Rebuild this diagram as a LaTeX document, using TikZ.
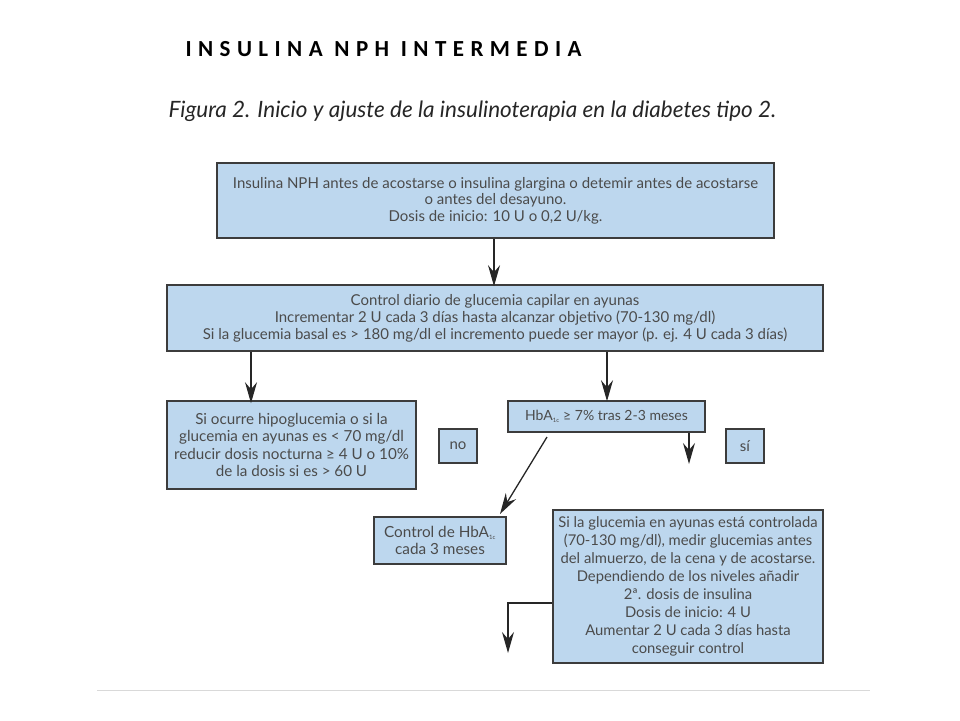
\documentclass[tikz,border=0pt]{standalone}
\usepackage{fontspec}
\setmainfont{Lato}
\newfontfamily\titlefont[LetterSpace=28]{Carlito}
\usetikzlibrary{arrows.meta}
\definecolor{boxfill}{RGB}{189,215,238}
\definecolor{boxline}{RGB}{60,60,60}
\definecolor{boxtext}{RGB}{75,75,75}
\tikzset{
  flowbox/.style={draw=boxline, line width=1.6pt, fill=boxfill, text=boxtext, align=center, inner sep=0pt, font=\fontsize{15}{16.5}\selectfont},
  conn/.style={line width=1.3pt, draw=black!85, -{Stealth[length=21pt,width=12pt,inset=7pt]}},
}
\newcommand{\hbasub}{\textsubscript{\fontsize{6}{6}\selectfont 1c}}
\begin{document}
\begin{tikzpicture}[x=1pt,y=-1pt]
\useasboundingbox (0,0) rectangle (960,720);
\node[font=\titlefont\bfseries\fontsize{23}{25}\selectfont, anchor=west] (title) at (182,49) {INSULINA NPH INTERMEDIA};
\node[font=\itshape\fontsize{22.5}{26}\selectfont, text=black!85, anchor=west] (cap) at (165,111) {Figura 2. Inicio y ajuste de la insulinoterapia en la diabetes tipo 2.};

\node[flowbox, minimum width=557pt, minimum height=75pt] (b1) at (495.5,200.5)
 {Insulina NPH antes de acostarse o insulina glargina o detemir antes de acostarse\\ o antes del desayuno.\\ Dosis de inicio: 10 U o 0,2 U/kg.};
\node[flowbox, minimum width=656pt, minimum height=66pt, font=\fontsize{15}{17}\selectfont] (b2) at (495,318)
 {Control diario de glucemia capilar en ayunas\\ Incrementar 2 U cada 3 días hasta alcanzar objetivo (70-130 mg/dl)\\ Si la glucemia basal es > 180 mg/dl el incremento puede ser mayor (p. ej. 4 U cada 3 días)};
\node[flowbox, minimum width=249pt, minimum height=88pt, font=\fontsize{15.2}{17.5}\selectfont] (b3) at (291.5,445)
 {Si ocurre hipoglucemia o si la\\ glucemia en ayunas es < 70 mg/dl\\ reducir dosis nocturna ≥ 4 U o 10\%\\ de la dosis si es > 60 U};
\node[flowbox, minimum width=38pt, minimum height=34pt] (no) at (458,446) {no};
\node[flowbox, minimum width=197pt, minimum height=31pt, font=\fontsize{14}{16}\selectfont] (hba) at (606.5,416.5) {HbA\hbasub{} ≥ 7\% tras 2-3 meses};
\node[flowbox, minimum width=38pt, minimum height=34pt] (si) at (745,446) {sí};
\node[flowbox, minimum width=132pt, minimum height=47pt, font=\fontsize{15.3}{16.5}\selectfont] (ctrl) at (440,540.5) {Control de HbA\hbasub\\ cada 3 meses};
\node[flowbox, minimum width=270pt, minimum height=153pt, font=\fontsize{14.8}{18}\selectfont] (b4) at (688,586.5)
 {Si la glucemia en ayunas está controlada\\ (70-130 mg/dl), medir glucemias antes\\ del almuerzo, de la cena y de acostarse.\\ Dependiendo de los niveles añadir\\ 2ª. dosis de insulina\\ Dosis de inicio: 4 U\\ Aumentar 2 U cada 3 días hasta\\ conseguir control};

\coordinate (siend) at (689,464);
\coordinate (dstart) at (547,437);
\coordinate (dend) at (500,514);
\coordinate (lend) at (508,653);

\draw[conn] (b1.south -| 494,0) -- ([yshift=-2pt]b2.north -| 494,0);
\draw[conn] (b2.south -| 251,0) -- ([yshift=-3pt]b3.north -| 251,0);
\draw[conn] (b2.south -| 607,0) -- ([yshift=-1pt]hba.north -| 607,0);
\draw[conn] (hba.south -| siend) -- (siend);
\draw[conn] (dstart) -- (dend);
\draw[conn] (b4.west |- 0,603) -| (lend);

\draw[black!15, line width=1pt] (97,690) -- (870,690);
\end{tikzpicture}
\end{document}
